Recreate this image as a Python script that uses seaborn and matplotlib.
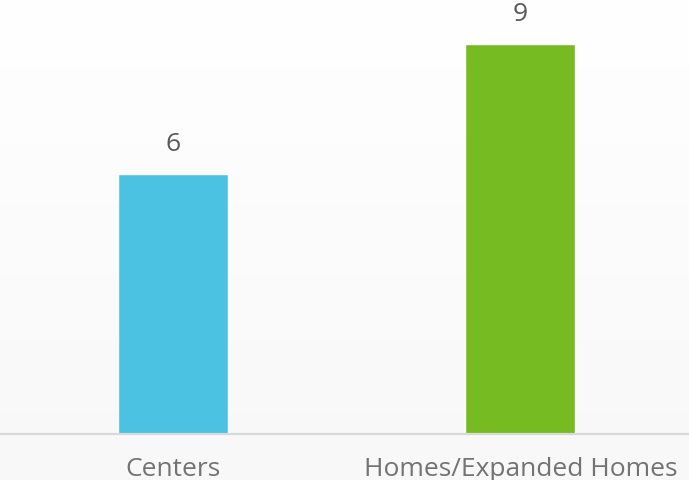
import numpy as np
import pandas as pd
import matplotlib
matplotlib.use("Agg")
import matplotlib.pyplot as plt
import seaborn as sns

# chart data
categories = ["Centers", "Homes/Expanded Homes"]
counts = [6, 9]
bar_colors = ["#4BC2E1", "#77BB22"]

my_data = pd.DataFrame({"Type": categories, "Count": counts})

sns.set_style("white")
plt.rcParams["font.family"] = ["Open Sans", "DejaVu Sans"]

fig = plt.figure(figsize=(6.89, 4.81), dpi=100)

# subtle vertical gradient behind the plot
bg = fig.add_axes([0, 0, 1, 1])
grad = np.linspace(1.0, 0.0, 256).reshape(-1, 1)
bg.imshow(grad, aspect="auto", cmap=matplotlib.colors.LinearSegmentedColormap.from_list(
    "bg", ["#f8f8f8", "#ffffff"]), extent=[0, 1, 0, 1], vmin=0, vmax=1)
bg.set_axis_off()

ax = fig.add_axes([0, 46 / 481, 1, 1 - 48 / 481])
ax.patch.set_alpha(0)
sns.barplot(data=my_data, x="Type", y="Count", hue="Type", palette=bar_colors,
            width=0.317, legend=False, ax=ax, saturation=1)

ax.set_xlim(-0.5, 1.486)
ax.set_ylim(0, 10)
for spine in ["top", "right", "left"]:
    ax.spines[spine].set_visible(False)
ax.spines["bottom"].set_color("#d9d9d9")
ax.spines["bottom"].set_linewidth(1.6)
ax.set_yticks([])
ax.set_xlabel("")
ax.set_ylabel("")
ax.tick_params(axis="x", length=0, pad=16, labelsize=19, labelcolor="#737373")

for i, c in enumerate(counts):
    ax.text(i, c + 0.42, str(c), ha="center", va="bottom", fontsize=19, color="#595959")

fig.savefig("out.png", dpi=100)
